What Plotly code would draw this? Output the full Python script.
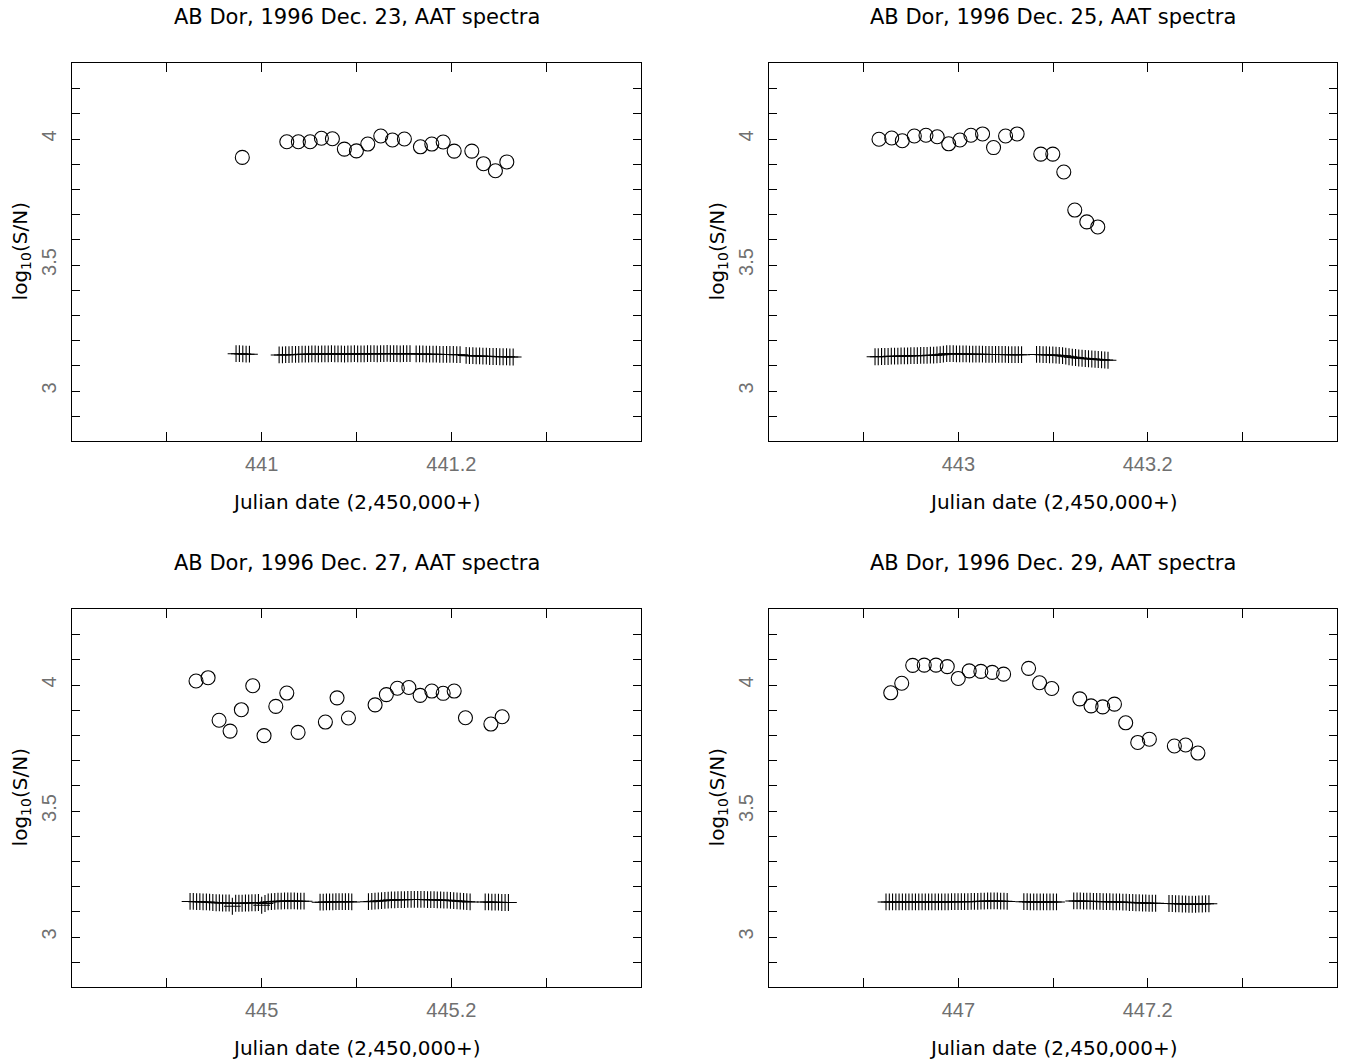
import plotly.graph_objects as go

# ---------------- data ----------------
panel_titles = ["AB Dor, 1996 Dec. 23, AAT spectra", "AB Dor, 1996 Dec. 25, AAT spectra",
                "AB Dor, 1996 Dec. 27, AAT spectra", "AB Dor, 1996 Dec. 29, AAT spectra"]
x_title = "Julian date (2,450,000+)"
y_title = "log<sub>10</sub>(S/N)"
x_ranges = [[440.8, 441.4], [442.8, 443.4], [444.8, 445.4], [446.8, 447.4]]
x_tickvals = [[440.9, 441.0, 441.1, 441.2, 441.3], [442.9, 443.0, 443.1, 443.2, 443.3],
              [444.9, 445.0, 445.1, 445.2, 445.3], [446.9, 447.0, 447.1, 447.2, 447.3]]
x_ticktext = [["", "441", "", "441.2", ""], ["", "443", "", "443.2", ""],
              ["", "445", "", "445.2", ""], ["", "447", "", "447.2", ""]]
y_range = [2.8, 4.3]
y_tickvals = [2.9, 3.0, 3.1, 3.2, 3.3, 3.4, 3.5, 3.6, 3.7, 3.8, 3.9, 4.0, 4.1, 4.2]
y_ticktext = ["", "3", "", "", "", "", "3.5", "", "", "", "", "4", "", ""]

# Dec 23 — circles
c1_x = [440.9796, 441.0265, 441.0387, 441.0511, 441.0630, 441.0746, 441.0872, 441.0999, 441.1119, 441.1256,
        441.1379, 441.1505, 441.1674, 441.1794, 441.1914, 441.2030, 441.2216, 441.2339, 441.2465, 441.2585]
c1_y = [3.927, 3.989, 3.989, 3.989, 4.003, 4.001, 3.960, 3.953, 3.980, 4.012,
        3.996, 4.000, 3.969, 3.980, 3.988, 3.952, 3.952, 3.902, 3.874, 3.909]
# Dec 23 — pluses
p1_x = [440.9730, 440.9765, 440.9801, 440.9836, 440.9871,
        441.0184, 441.0219, 441.0253, 441.0288, 441.0322, 441.0357, 441.0391, 441.0426, 441.0460, 441.0495,
        441.0529, 441.0564, 441.0598, 441.0633, 441.0667, 441.0702, 441.0736, 441.0771, 441.0805, 441.0840,
        441.0874, 441.0909, 441.0943, 441.0978, 441.1012, 441.1047, 441.1081, 441.1116, 441.1150, 441.1185,
        441.1219, 441.1254, 441.1288, 441.1323, 441.1357, 441.1392, 441.1426, 441.1461, 441.1495, 441.1530,
        441.1564,
        441.1629, 441.1665, 441.1700, 441.1736, 441.1771, 441.1807, 441.1842, 441.1878, 441.1914, 441.1950,
        441.1985, 441.2021, 441.2057, 441.2092,
        441.2156, 441.2191, 441.2227, 441.2262, 441.2298, 441.2333, 441.2369, 441.2404, 441.2440, 441.2475,
        441.2511, 441.2546, 441.2582, 441.2617, 441.2652]
p1_y = [3.148, 3.148, 3.147, 3.146, 3.146,
        3.143, 3.143, 3.144, 3.144, 3.145, 3.145, 3.145, 3.146, 3.146, 3.146,
        3.147, 3.147, 3.146, 3.147, 3.147, 3.147, 3.148, 3.147, 3.147, 3.147,
        3.146, 3.147, 3.147, 3.148, 3.147, 3.147, 3.147, 3.148, 3.148, 3.148,
        3.147, 3.148, 3.148, 3.149, 3.148, 3.148, 3.148, 3.147, 3.148, 3.148,
        3.148,
        3.147, 3.147, 3.147, 3.146, 3.146, 3.146, 3.146, 3.145, 3.145, 3.145,
        3.145, 3.145, 3.144, 3.144,
        3.141, 3.140, 3.140, 3.139, 3.139, 3.138, 3.138, 3.137, 3.137, 3.137,
        3.136, 3.136, 3.136, 3.135, 3.135]

# Dec 25 — circles
c2_x = [442.9162, 442.9296, 442.9408, 442.9535, 442.9658, 442.9777, 442.9898, 443.0017, 443.0133, 443.0256,
        443.0372, 443.0499, 443.0621, 443.0871, 443.0998, 443.1114, 443.1230, 443.1357, 443.1473]
c2_y = [3.999, 4.004, 3.993, 4.012, 4.015, 4.009, 3.981, 3.996, 4.015, 4.020,
        3.966, 4.012, 4.020, 3.940, 3.940, 3.869, 3.718, 3.671, 3.651]
# Dec 25 — pluses
p2_x = [442.9120, 442.9154, 442.9189, 442.9223, 442.9258, 442.9292, 442.9326, 442.9361, 442.9395, 442.9430,
        442.9464, 442.9498, 442.9533, 442.9567, 442.9602, 442.9636, 442.9670, 442.9705, 442.9739, 442.9774,
        442.9808, 442.9842, 442.9877, 442.9911, 442.9946, 442.9980, 443.0014, 443.0049, 443.0083, 443.0118,
        443.0152, 443.0186, 443.0221, 443.0255, 443.0290, 443.0324, 443.0358, 443.0393, 443.0427, 443.0462,
        443.0496, 443.0530, 443.0565, 443.0599, 443.0634, 443.0668,
        443.0826, 443.0860, 443.0895, 443.0929, 443.0963, 443.0998, 443.1032, 443.1066, 443.1101, 443.1135,
        443.1169, 443.1204, 443.1238, 443.1272, 443.1307, 443.1341, 443.1375, 443.1410, 443.1444, 443.1478,
        443.1513, 443.1547, 443.1581]
p2_y = [3.136, 3.136, 3.137, 3.137, 3.137, 3.138, 3.138, 3.138, 3.139, 3.139,
        3.139, 3.140, 3.140, 3.140, 3.141, 3.141, 3.141, 3.142, 3.142, 3.143,
        3.144, 3.146, 3.148, 3.148, 3.148, 3.147, 3.147, 3.147, 3.147, 3.146,
        3.146, 3.146, 3.146, 3.146, 3.145, 3.145, 3.145, 3.145, 3.145, 3.145,
        3.145, 3.144, 3.144, 3.144, 3.144, 3.144,
        3.145, 3.145, 3.144, 3.144, 3.143, 3.143, 3.142, 3.141, 3.140, 3.138,
        3.136, 3.134, 3.133, 3.131, 3.130, 3.129, 3.128, 3.127, 3.126, 3.125,
        3.124, 3.123, 3.122]

# Dec 27 — circles
c3_x = [444.9308, 444.9435, 444.9551, 444.9667, 444.9786, 444.9906, 445.0025, 445.0149, 445.0265, 445.0384,
        445.0672, 445.0795, 445.0915, 445.1196, 445.1315, 445.1431, 445.1552, 445.1671, 445.1794, 445.1914,
        445.2030, 445.2149, 445.2417, 445.2536]
c3_y = [4.016, 4.029, 3.860, 3.817, 3.902, 3.997, 3.799, 3.915, 3.968, 3.812,
        3.853, 3.949, 3.869, 3.921, 3.962, 3.987, 3.990, 3.959, 3.976, 3.967,
        3.976, 3.870, 3.845, 3.874]
# Dec 27 — pluses
p3_x = [444.9245, 444.9279, 444.9314, 444.9348, 444.9382, 444.9417, 444.9451, 444.9485, 444.9520, 444.9554,
        444.9588, 444.9623, 444.9657, 444.9691, 444.9726, 444.9760, 444.9794, 444.9829, 444.9863, 444.9897,
        444.9932, 444.9966, 445.0000, 445.0035, 445.0069, 445.0103, 445.0138, 445.0172, 445.0206, 445.0241,
        445.0275, 445.0309, 445.0344, 445.0378, 445.0412, 445.0447,
        445.0616, 445.0649, 445.0683, 445.0716, 445.0750, 445.0783, 445.0816, 445.0850, 445.0883, 445.0917,
        445.0950,
        445.1126, 445.1161, 445.1195, 445.1230, 445.1264, 445.1299, 445.1334, 445.1368, 445.1403, 445.1437,
        445.1472, 445.1506, 445.1541, 445.1576, 445.1610, 445.1645, 445.1679, 445.1714, 445.1749, 445.1783,
        445.1818, 445.1852, 445.1887, 445.1921, 445.1956, 445.1991, 445.2025, 445.2060, 445.2094, 445.2129,
        445.2163, 445.2198,
        445.2357, 445.2392, 445.2427, 445.2462, 445.2497, 445.2532, 445.2567, 445.2602]
p3_y = [3.141, 3.141, 3.140, 3.140, 3.139, 3.139, 3.138,
        3.137, 3.136, 3.136, 3.135, 3.135, 3.135,
        3.122,
        3.134, 3.134, 3.134, 3.135, 3.135, 3.136, 3.136, 3.137,
        3.126,
        3.133,
        3.139, 3.140, 3.141, 3.142, 3.142, 3.143, 3.143, 3.143, 3.143, 3.142, 3.142, 3.142,
        3.138, 3.138, 3.139, 3.139, 3.139, 3.140, 3.140, 3.140, 3.140, 3.140, 3.139,
        3.140, 3.141, 3.142, 3.143, 3.144, 3.145, 3.146, 3.147, 3.147, 3.148,
        3.148, 3.148, 3.149, 3.149, 3.149, 3.149, 3.149, 3.149, 3.148, 3.148,
        3.148, 3.147, 3.147, 3.146, 3.146, 3.145, 3.144, 3.143, 3.142, 3.141,
        3.140, 3.139,
        3.139, 3.139, 3.138, 3.138, 3.138, 3.137, 3.137, 3.137]

# Dec 29 — circles
c4_x = [446.9286, 446.9402, 446.9518, 446.9640, 446.9764, 446.9883, 446.9999, 447.0115, 447.0238, 447.0358,
        447.0478, 447.0742, 447.0858, 447.0987, 447.1283, 447.1402, 447.1525, 447.1649, 447.1768, 447.1895,
        447.2018, 447.2282, 447.2401, 447.2531]
c4_y = [3.969, 4.007, 4.078, 4.079, 4.079, 4.073, 4.026, 4.056, 4.054, 4.050,
        4.043, 4.066, 4.009, 3.986, 3.945, 3.917, 3.913, 3.924, 3.850, 3.772,
        3.785, 3.758, 3.762, 3.730]
# Dec 29 — pluses
p4_x = [446.9236, 446.9271, 446.9305, 446.9340, 446.9374, 446.9409, 446.9444, 446.9478, 446.9513, 446.9547,
        446.9582, 446.9617, 446.9651, 446.9686, 446.9720, 446.9755, 446.9790, 446.9824, 446.9859, 446.9893,
        446.9928, 446.9963, 446.9997, 447.0032, 447.0066, 447.0101, 447.0136, 447.0170, 447.0205, 447.0239,
        447.0274, 447.0309, 447.0343, 447.0378, 447.0412, 447.0447, 447.0482, 447.0516,
        447.0692, 447.0727, 447.0761, 447.0796, 447.0830, 447.0865, 447.0899, 447.0934, 447.0968, 447.1003,
        447.1037,
        447.1219, 447.1254, 447.1288, 447.1323, 447.1357, 447.1392, 447.1427, 447.1461, 447.1496, 447.1530,
        447.1565, 447.1600, 447.1634, 447.1669, 447.1703, 447.1738, 447.1773, 447.1807, 447.1842, 447.1876,
        447.1911, 447.1946, 447.1980, 447.2015, 447.2049, 447.2084,
        447.2225, 447.2260, 447.2295, 447.2330, 447.2366, 447.2401, 447.2436, 447.2471, 447.2506, 447.2541,
        447.2577, 447.2612, 447.2647]
p4_y = [3.139, 3.139, 3.139, 3.139, 3.139, 3.139, 3.139, 3.139, 3.139, 3.139,
        3.139, 3.139, 3.139, 3.139, 3.139, 3.139, 3.139, 3.139, 3.139, 3.139,
        3.140, 3.140, 3.140, 3.140, 3.140, 3.140, 3.141, 3.141,
        3.141, 3.142, 3.142, 3.143, 3.143, 3.143, 3.143, 3.142, 3.142, 3.141,
        3.140, 3.140, 3.139, 3.139, 3.139, 3.139, 3.139, 3.139, 3.139, 3.139,
        3.139,
        3.143, 3.143, 3.143, 3.142, 3.142, 3.142, 3.141, 3.141, 3.141, 3.140,
        3.140, 3.140, 3.139, 3.139, 3.139, 3.138, 3.138, 3.137, 3.137, 3.136,
        3.136, 3.135, 3.135, 3.134, 3.134, 3.134,
        3.133, 3.133, 3.132, 3.132, 3.131, 3.131, 3.130, 3.130, 3.130, 3.131,
        3.131, 3.132, 3.132]

circles_x = [c1_x, c2_x, c3_x, c4_x]
circles_y = [c1_y, c2_y, c3_y, c4_y]
pluses_x = [p1_x, p2_x, p3_x, p4_x]
pluses_y = [p1_y, p2_y, p3_y, p4_y]

# ---------------- layout geometry ----------------
W, H = 1351, 1063

def px_x(p):
    return p / W

def px_y(p):
    return 1 - p / H

frames = [(72, 641, 63.4, 441.4), (769, 1337, 63.4, 441.4),
          (72, 641, 609.4, 987.4), (769, 1337, 609.4, 987.4)]

tick_font = dict(family="Liberation Sans", size=20, color="#707070")
title_font = dict(family="DejaVu Sans", size=21, color="black")
text_font = dict(family="DejaVu Sans", size=20, color="black")

fig = go.Figure()
layout = dict(width=W, height=H, margin=dict(l=0, r=0, t=0, b=0),
              paper_bgcolor="white", plot_bgcolor="white", showlegend=False)
annotations = []

for i in range(4):
    sfx = "" if i == 0 else str(i + 1)
    L, R, T, B = frames[i]
    fig.add_trace(go.Scatter(x=pluses_x[i], y=pluses_y[i], mode="markers",
                             marker=dict(symbol="cross-thin", size=12,
                                         line=dict(width=1.1, color="black")),
                             xaxis="x" + sfx, yaxis="y" + sfx, hoverinfo="x+y"))
    fig.add_trace(go.Scatter(x=circles_x[i], y=circles_y[i], mode="markers",
                             marker=dict(symbol="circle-open", size=14, color="black",
                                         line=dict(width=1.1, color="black")),
                             xaxis="x" + sfx, yaxis="y" + sfx, hoverinfo="x+y"))
    layout["xaxis" + sfx] = dict(domain=[px_x(L), px_x(R)], anchor="y" + sfx, range=x_ranges[i],
                                 tickmode="array", tickvals=x_tickvals[i], ticktext=x_ticktext[i],
                                 ticks="inside", ticklen=9, tickwidth=1, tickcolor="black",
                                 showline=True, linecolor="black", linewidth=1, mirror="ticks",
                                 showgrid=False, zeroline=False, tickfont=tick_font,
                                 ticklabelstandoff=5)
    layout["yaxis" + sfx] = dict(domain=[px_y(B), px_y(T)], anchor="x" + sfx, range=y_range,
                                 tickmode="array", tickvals=y_tickvals, ticktext=y_ticktext,
                                 ticks="inside", ticklen=8, tickwidth=1, tickcolor="black",
                                 showline=True, linecolor="black", linewidth=1, mirror="ticks",
                                 showgrid=False, zeroline=False, tickfont=tick_font,
                                 tickangle=-90, ticklabelstandoff=7)
    xc = (L + R) / 2
    annotations.append(dict(text=panel_titles[i], xref="paper", yref="paper", x=px_x(xc),
                            y=px_y(T - 46), xanchor="center", yanchor="middle",
                            showarrow=False, font=title_font))
    annotations.append(dict(text=x_title, xref="paper", yref="paper", x=px_x(xc),
                            y=px_y(B + 61), xanchor="center", yanchor="middle",
                            showarrow=False, font=text_font))
    annotations.append(dict(text=y_title, xref="paper", yref="paper", x=px_x(L - 51),
                            y=px_y(T + 188), xanchor="center", yanchor="middle",
                            textangle=-90, showarrow=False, font=text_font))

layout["annotations"] = annotations
fig.update_layout(**layout)
fig.write_html("out.html", config={"displayModeBar": False},
               post_script="document.body.style.margin='0px';document.body.style.overflow='hidden';")
